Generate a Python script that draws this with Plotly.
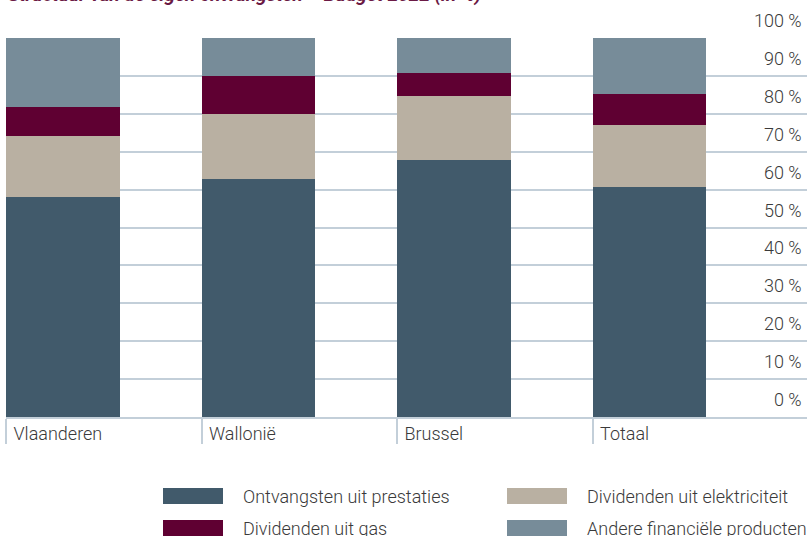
import plotly.graph_objects as go

categories = ["Vlaanderen", "Wallonië", "Brussel", "Totaal"]
series_names = ["Ontvangsten uit prestaties", "Dividenden uit elektriciteit",
                "Dividenden uit gas", "Andere financiële producten"]
prestaties = [58.0, 62.9, 67.8, 60.6]
elektriciteit = [16.1, 17.1, 16.9, 16.4]
gas = [7.7, 10.0, 6.1, 8.2]
andere = [18.2, 10.0, 9.2, 14.8]
series_values = [prestaties, elektriciteit, gas, andere]
colors = ["#415a6b", "#b9b0a2", "#5f0032", "#778c99"]
y_ticks = list(range(0, 101, 10))
y_tick_labels = [f"{v} %" for v in y_ticks]
title_text = "Structuur van de eigen ontvangsten – Budget 2022 (in %)"

FONT = "Roboto"
TXT = "#3a3a3a"
GRID = "#c3cfd9"
FS = 18

W, H = 809, 536
L, R, T, B = 6, 2, 38, 119
pw, ph = W - L - R, H - T - B

def px_x(p):
    return (p - L) / pw

def px_y(p):
    return (H - B - p) / ph

xs = list(range(len(categories)))
fig = go.Figure()
for name, vals, col in zip(series_names, series_values, colors):
    fig.add_trace(go.Bar(x=xs, y=vals, name=name, marker_color=col,
                         marker_line_width=0, offset=-0.5, width=0.583,
                         showlegend=False, hoverinfo="skip"))

band = 195.5
fig.update_layout(
    width=W, height=H, barmode="stack",
    margin=dict(l=L, r=R, t=T, b=B, autoexpand=False),
    plot_bgcolor="white", paper_bgcolor="white",
    font=dict(family=FONT, color=TXT, size=FS, weight=300),
    xaxis=dict(range=[-0.5, -0.5 + pw / band], automargin=False,
               tickvals=[i - 0.5 for i in xs], ticktext=categories,
               ticks="outside", ticklen=25, tickcolor=GRID, tickwidth=1.5,
               ticklabelposition="outside right", ticklabelstandoff=0,
               ticklabelshift=6,
               showgrid=False, zeroline=False,
               showline=True, linecolor=GRID, linewidth=1.5,
               tickfont=dict(family=FONT, size=FS, color=TXT, weight=300)),
    yaxis=dict(range=[0, 100], tickvals=y_ticks, automargin=False,
               showticklabels=False,
               showgrid=True, gridcolor=GRID, gridwidth=1.5,
               zeroline=False, showline=False, ticks=""),
)

# y tick labels, placed with the y scale above each gridline
for v, lab in zip(y_ticks, y_tick_labels):
    fig.add_annotation(text=lab, xref="paper", yref="y", x=1, y=v,
                       xanchor="right", yanchor="bottom", xshift=-3, yshift=5,
                       showarrow=False,
                       font=dict(family=FONT, size=FS, color=TXT, weight=300))

fig.add_annotation(text=title_text, xref="paper", yref="paper", x=0, y=1,
                   xanchor="left", yanchor="bottom", yshift=30, showarrow=False,
                   font=dict(family=FONT, size=19, color="#6b1a45", style="italic", weight=700))

# legend built from series names / colors
swatch_cols = [(163, 223, 243), (507, 567, 587)]
rows = [(488, 504), (520, 536)]
for k in range(len(series_names)):
    cx = swatch_cols[k % 2]
    ry = rows[k // 2]
    fig.add_shape(type="rect", xref="paper", yref="paper",
                  x0=px_x(cx[0]), x1=px_x(cx[1]), y0=px_y(ry[1]), y1=px_y(ry[0]),
                  fillcolor=colors[k], line_width=0)
    fig.add_annotation(text=series_names[k], xref="paper", yref="paper",
                       x=px_x(cx[2]), y=px_y((ry[0] + ry[1]) / 2),
                       xanchor="left", yanchor="middle", showarrow=False, xshift=-2,
                       font=dict(family=FONT, size=FS, color=TXT, weight=300))

fig.write_html("out.html", config={"displayModeBar": False},
               post_script="document.body.style.margin='0';document.body.style.overflow='hidden';")
